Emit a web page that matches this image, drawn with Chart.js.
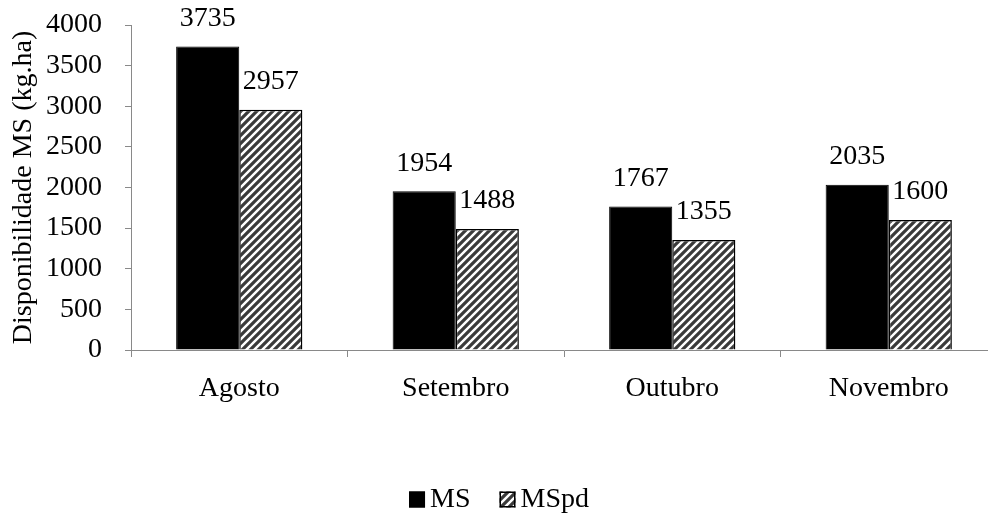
<!DOCTYPE html>
<html>
<head>
<meta charset="utf-8">
<script src="https://cdn.jsdelivr.net/npm/chart.js@4/dist/chart.umd.min.js"></script>
<style>
  html, body { margin: 0; padding: 0; background: #fff; overflow: hidden; }
  #wrap { width: 1010px; height: 520px; }
</style>
</head>
<body>
<div id="wrap"><canvas id="c" width="1010" height="520"></canvas></div>
<script>
// ---- data ----
const categories = ['Agosto', 'Setembro', 'Outubro', 'Novembro'];
const msValues = [3735, 1954, 1767, 2035];
const mspdValues = [2957, 1488, 1355, 1600];
const seriesNames = ['MS', 'MSpd'];
const yTitle = 'Disponibilidade MS (kg.ha)';

const FONT = "'Liberation Serif', 'Times New Roman', serif";
const FS = 28;
const AXIS_GRAY = '#898989';

function makeStripePattern() {
  const s = 8;
  const c = document.createElement('canvas');
  c.width = s; c.height = s;
  const g = c.getContext('2d');
  g.fillStyle = '#ffffff';
  g.fillRect(0, 0, s, s);
  g.strokeStyle = '#3a3a3a';
  g.lineWidth = 3.2;
  g.beginPath();
  g.moveTo(-2, s + 2); g.lineTo(s + 2, -2);
  g.moveTo(-2, 2); g.lineTo(2, -2);
  g.moveTo(s - 2, s + 2); g.lineTo(s + 2, s - 2);
  g.stroke();
  return g.createPattern(c, 'repeat');
}
const stripe = makeStripePattern();

const dataLabels = {
  id: 'dataLabels',
  afterDatasetsDraw(chart) {
    const ctx = chart.ctx;
    ctx.save();
    ctx.font = FS + 'px ' + FONT;
    ctx.fillStyle = '#000';
    ctx.textAlign = 'center';
    ctx.textBaseline = 'middle';
    chart.data.datasets.forEach((ds, di) => {
      const meta = chart.getDatasetMeta(di);
      meta.data.forEach((el, i) => {
        ctx.fillText(String(ds.data[i]), el.x, el.y - 28);
      });
    });
    ctx.restore();
  }
};

const customLegend = {
  id: 'customLegend',
  afterDraw(chart) {
    const ctx = chart.ctx;
    ctx.save();
    ctx.font = FS + 'px ' + FONT;
    const box = 16, gapText = 5, gapItem = 29;
    const items = chart.data.datasets.map(ds => ({
      text: ds.label, fill: ds.backgroundColor, w: box + gapText + ctx.measureText(ds.label).width
    }));
    const total = items.reduce((a, it) => a + it.w, 0) + gapItem * (items.length - 1);
    let x = 499 - total / 2;
    const cy = 499.5;
    items.forEach(it => {
      ctx.fillStyle = it.fill;
      ctx.fillRect(x, cy - box / 2, box, box);
      ctx.strokeStyle = '#000';
      ctx.lineWidth = 1.5;
      ctx.strokeRect(x + 0.75, cy - box / 2 + 0.75, box - 1.5, box - 1.5);
      ctx.fillStyle = '#000';
      ctx.textAlign = 'left';
      ctx.textBaseline = 'middle';
      ctx.fillText(it.text, x + box + gapText, cy);
      x += it.w + gapItem;
    });
    ctx.restore();
  }
};

new Chart(document.getElementById('c'), {
  type: 'bar',
  data: {
    labels: categories,
    datasets: [
      { label: seriesNames[0], data: msValues, backgroundColor: '#000000', borderColor: '#000000', borderWidth: 1 },
      { label: seriesNames[1], data: mspdValues, backgroundColor: stripe, borderColor: '#000000', borderWidth: 1.5 }
    ]
  },
  options: {
    responsive: false,
    animation: false,
    devicePixelRatio: 1,
    layout: { padding: { left: 0, right: 13, top: 0, bottom: 0 } },
    datasets: { bar: { categoryPercentage: 0.583, barPercentage: 1.0 } },
    plugins: {
      legend: { display: false },
      tooltip: { enabled: false }
    },
    scales: {
      x: {
        grid: { drawOnChartArea: false, drawTicks: true, tickLength: 7, color: AXIS_GRAY, offset: true },
        border: { display: true, color: AXIS_GRAY, width: 1 },
        ticks: { color: '#000', font: { family: FONT, size: FS }, padding: 15, maxRotation: 0 },
        afterFit(scale) { scale.height = 170; }
      },
      y: {
        min: 0, max: 4000,
        grid: { drawOnChartArea: false, drawTicks: true, tickLength: 6, color: AXIS_GRAY },
        border: { display: true, color: AXIS_GRAY, width: 1 },
        ticks: { stepSize: 500, color: '#000', font: { family: FONT, size: FS }, padding: 23,
                 callback: (v) => String(v) },
        title: { display: true, text: yTitle, color: '#000', font: { family: FONT, size: FS }, padding: { top: 7, bottom: 0 } },
        afterFit(scale) { scale.width = 131; scale.paddingTop = 25; scale.paddingBottom = 0; }
      }
    }
  },
  plugins: [dataLabels, customLegend]
});
</script>
</body>
</html>
